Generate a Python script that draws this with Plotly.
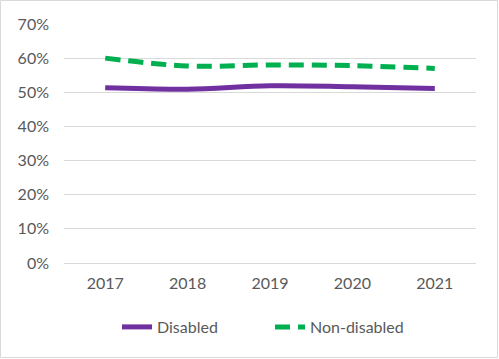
import plotly.graph_objects as go

years = ["2017", "2018", "2019", "2020", "2021"]
disabled = [0.513, 0.509, 0.519, 0.516, 0.511]
non_disabled = [0.600, 0.577, 0.580, 0.578, 0.570]
y_ticks = [0, 0.1, 0.2, 0.3, 0.4, 0.5, 0.6, 0.7]

W, H = 499, 359
ml, mr, mt, mb = 64, 23, 24, 96
pw, ph = W - ml - mr, H - mt - mb

fig = go.Figure()
fig.add_trace(go.Scatter(x=years, y=disabled, name="Disabled", mode="lines",
                         line=dict(color="#7030A0", width=5, shape="spline")))
fig.add_trace(go.Scatter(x=years, y=non_disabled, name="Non-disabled", mode="lines",
                         line=dict(color="#00B050", width=5, shape="spline", dash="15px,8px")))

font = dict(family="Lato, 'Open Sans', sans-serif", size=16, color="#595959")
fig.update_layout(
    width=W, height=H,
    margin=dict(l=ml, r=mr, t=mt, b=mb),
    paper_bgcolor="white", plot_bgcolor="white",
    font=font,
    showlegend=True,
    legend=dict(orientation="h", x=0.5, xanchor="center", y=-64 / ph, yanchor="middle",
                font=font, traceorder="normal", entrywidth=108, entrywidthmode="pixels"),
    xaxis=dict(type="category", range=[-0.5, 4.5], showgrid=False, showline=False,
               ticks="", ticklabelstandoff=9, tickfont=font),
    yaxis=dict(range=[0, 0.7], tickvals=y_ticks, tickformat=".0%", showgrid=True,
               gridcolor="#D9D9D9", gridwidth=1, zeroline=True, zerolinecolor="#D9D9D9",
               zerolinewidth=1, showline=False, ticks="", ticklabelstandoff=14, tickfont=font),
    shapes=[dict(type="rect", xref="paper", yref="paper",
                 x0=-(ml - 0.5) / pw, x1=1 + (mr - 1.5) / pw,
                 y0=-(mb - 1.5) / ph, y1=1 + (mt - 0.5) / ph,
                 line=dict(color="#D9D9D9", width=1), layer="below")],
)

fig.write_html("out.html", config={"displayModeBar": False},
               post_script="document.body.style.margin='0';")
